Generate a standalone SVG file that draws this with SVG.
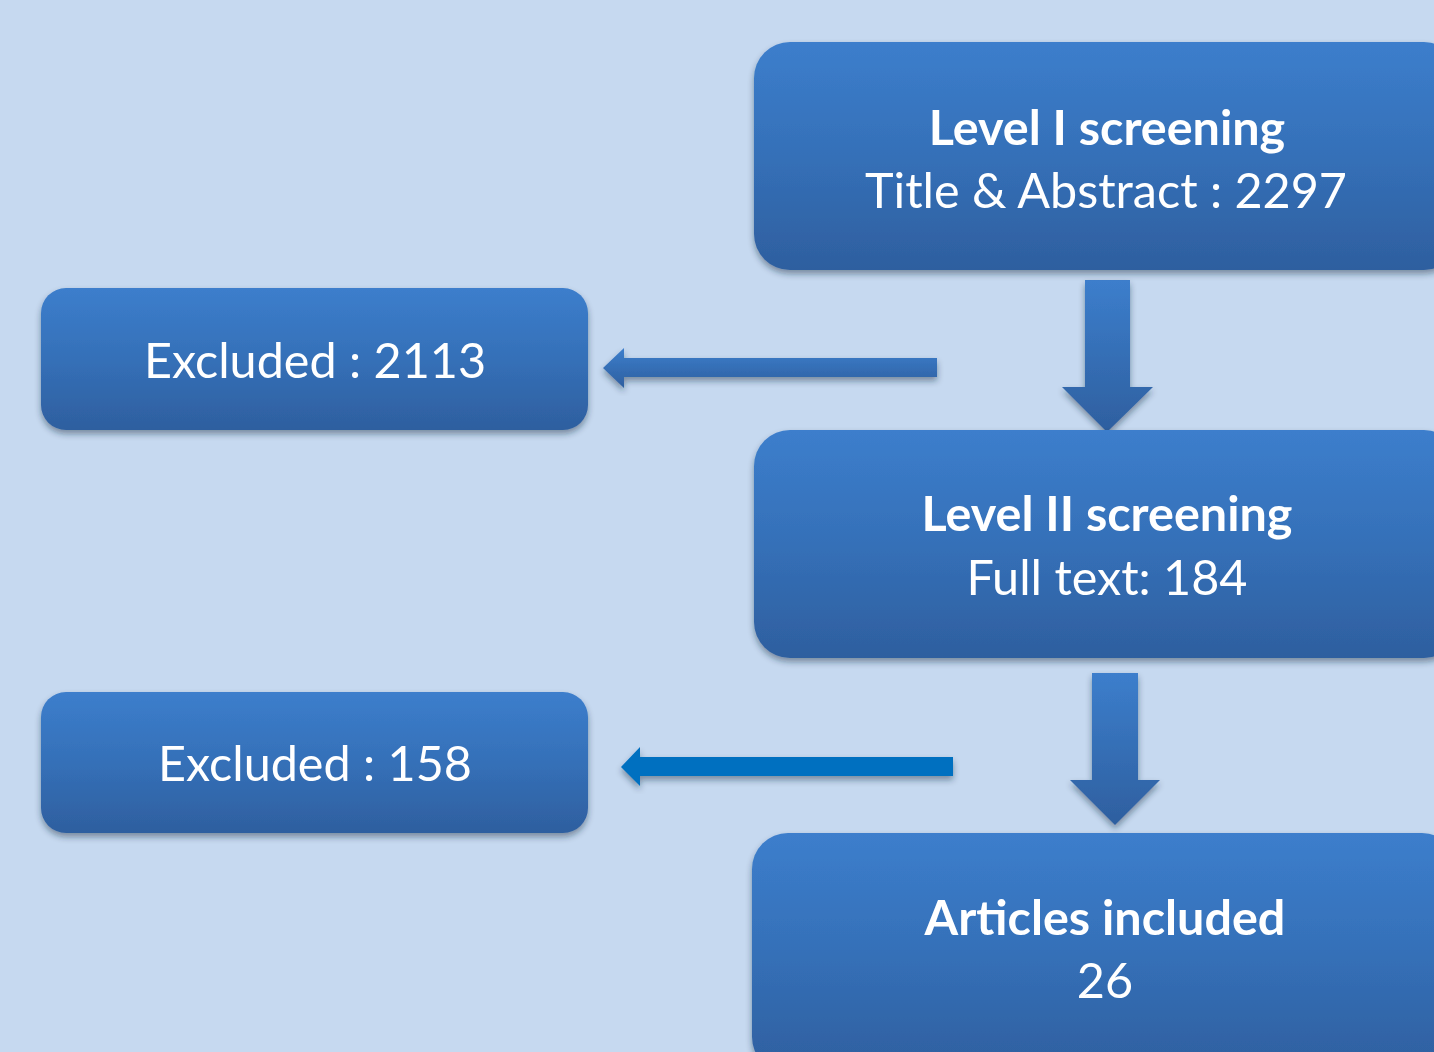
<svg xmlns="http://www.w3.org/2000/svg" width="1434" height="1052" viewBox="0 0 1434 1052">
  <defs>
    <linearGradient id="boxGrad" x1="0" y1="0" x2="0" y2="1">
      <stop offset="0" stop-color="#3c7ecc"/>
      <stop offset="0.5" stop-color="#3570b8"/>
      <stop offset="1" stop-color="#2e5f9f"/>
    </linearGradient>
    <linearGradient id="arrowGrad" x1="0" y1="0" x2="0" y2="1">
      <stop offset="0" stop-color="#3c7ecc"/>
      <stop offset="1" stop-color="#2e5f9f"/>
    </linearGradient>
    <filter id="shadow" x="-10%" y="-10%" width="120%" height="130%">
      <feDropShadow dx="0" dy="4" stdDeviation="3" flood-color="#1a2a40" flood-opacity="0.45"/>
    </filter>
    <style>
      .box { fill: url(#boxGrad); filter: url(#shadow); }
      .t { font-family: Lato, "Liberation Sans", sans-serif; fill: #ffffff; text-anchor: middle; font-size: 48.5px; }
      .b { font-weight: bold; }
      .arr { fill: url(#arrowGrad); filter: url(#shadow); }
    </style>
  </defs>
  <rect width="1434" height="1052" fill="#c6d9f0"/>

  <g id="connectors">
    <path class="arr" d="M1085,280 H1130 V387 H1153 L1107,432 L1062,387 H1085 Z"/>
    <path class="arr" d="M937,358 V377 H624 V388 L603,368 L624,348 V358 Z"/>
    <path class="arr" d="M1092,673 H1138 V780 H1160 L1115,825 L1070,780 H1092 Z"/>
    <path d="M953,757 V776 H640 V786 L621,767 L640,747 V757 Z" fill="#0070c0" filter="url(#shadow)"/>
  </g>

  <g id="level1">
    <rect class="box" x="754" y="42" width="706" height="228" rx="36"/>
    <text class="t b" x="1107" y="145">Level I screening</text>
    <text class="t" x="1106" y="208">Title &amp; Abstract : 2297</text>
  </g>
  <g id="excluded1">
    <rect class="box" x="41" y="288" width="547" height="142" rx="25"/>
    <text class="t" x="315" y="378">Excluded : 2113</text>
  </g>
  <g id="level2">
    <rect class="box" x="754" y="430" width="706" height="228" rx="36"/>
    <text class="t b" x="1107" y="531">Level II screening</text>
    <text class="t" x="1107" y="595">Full text: 184</text>
  </g>
  <g id="excluded2">
    <rect class="box" x="41" y="692" width="547" height="141" rx="25"/>
    <text class="t" x="315" y="781">Excluded : 158</text>
  </g>
  <g id="articles">
    <rect class="box" x="752" y="833" width="706" height="240" rx="36"/>
    <text class="t b" x="1105" y="935">Articles included</text>
    <text class="t" x="1105" y="998">26</text>
  </g>
</svg>
